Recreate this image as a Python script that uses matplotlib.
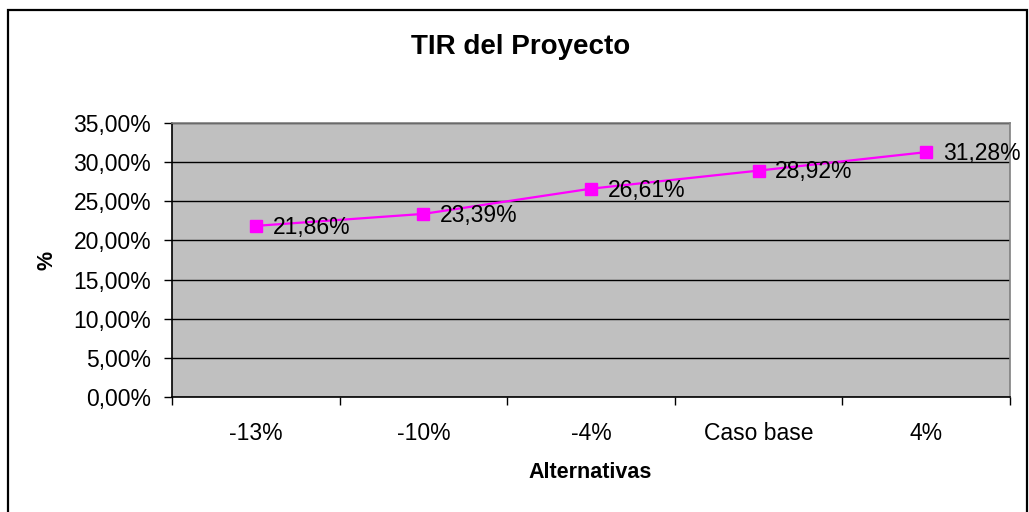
import matplotlib
matplotlib.use("Agg")
import matplotlib.pyplot as plt
from matplotlib.patches import Rectangle

plt.rcParams["font.family"] = ["Liberation Sans", "DejaVu Sans"]

categorias = ["-13%", "-10%", "-4%", "Caso base", "4%"]
tir = [0.2186, 0.2339, 0.2661, 0.2892, 0.3128]
etiquetas = ["21,86%", "23,39%", "26,61%", "28,92%", "31,28%"]
yticks = [0.0, 0.05, 0.10, 0.15, 0.20, 0.25, 0.30, 0.35]
ytick_labels = ["0,00%", "5,00%", "10,00%", "15,00%", "20,00%", "25,00%", "30,00%", "35,00%"]

W, H = 1029, 512
fig = plt.figure(figsize=(W / 100, H / 100), dpi=100)

# marco exterior del grafico
fig.patches.append(Rectangle((8 / W, -0.02), (1027 - 8) / W, 1.02 - 10 / H,
                             transform=fig.transFigure, fill=False,
                             edgecolor="black", linewidth=1.6))

left, right, top, bottom = 172, 1010, 123, 397
ax = fig.add_axes([left / W, 1 - bottom / H, (right - left) / W, (bottom - top) / H])
ax.set_facecolor("#C0C0C0")

x = list(range(len(categorias)))
ax.plot(x, tir, color="#FF00FF", linewidth=1.6, marker="s", markersize=8.5,
        markerfacecolor="#FF00FF", markeredgecolor="#FF00FF", zorder=3)

for xi, yi, lab in zip(x, tir, etiquetas):
    ax.annotate(lab, (xi, yi), xytext=(12, -1), textcoords="offset points",
                ha="left", va="center", fontsize=16.5, color="black", zorder=4)

ax.set_xlim(-0.5, len(categorias) - 0.5)
ax.set_ylim(0, 0.35)
ax.set_yticks(yticks)
ax.set_yticklabels(ytick_labels, fontsize=16.5)
ax.yaxis.grid(True, color="black", linewidth=1.0)
ax.set_axisbelow(True)

ax.set_xticks(x)
ax.set_xticklabels(categorias, fontsize=16.5)
ax.tick_params(axis="x", length=0, pad=18)
ax.set_xticks([i - 0.5 for i in range(len(categorias) + 1)], minor=True)
ax.tick_params(axis="x", which="minor", length=6, width=1.0, color="black", direction="out")
ax.tick_params(axis="y", length=6, width=1.0, color="black", direction="out", pad=9)

for side in ["top", "right"]:
    ax.spines[side].set_color("#808080")
    ax.spines[side].set_linewidth(1.2)
ax.spines["left"].set_color("black")
ax.spines["bottom"].set_color("black")
ax.spines["left"].set_linewidth(1.2)
ax.spines["bottom"].set_linewidth(1.2)

fig.text(521 / W, 1 - 47 / H, "TIR del Proyecto", ha="center", va="center",
         fontsize=20, fontweight="bold")
fig.text(590 / W, 1 - 473 / H, "Alternativas", ha="center", va="center",
         fontsize=15.5, fontweight="bold")
fig.text(47 / W, 1 - 260 / H, "%", ha="center", va="center", rotation=90,
         fontsize=15.5, fontweight="bold")

fig.savefig("out.png", dpi=100, facecolor="white")
